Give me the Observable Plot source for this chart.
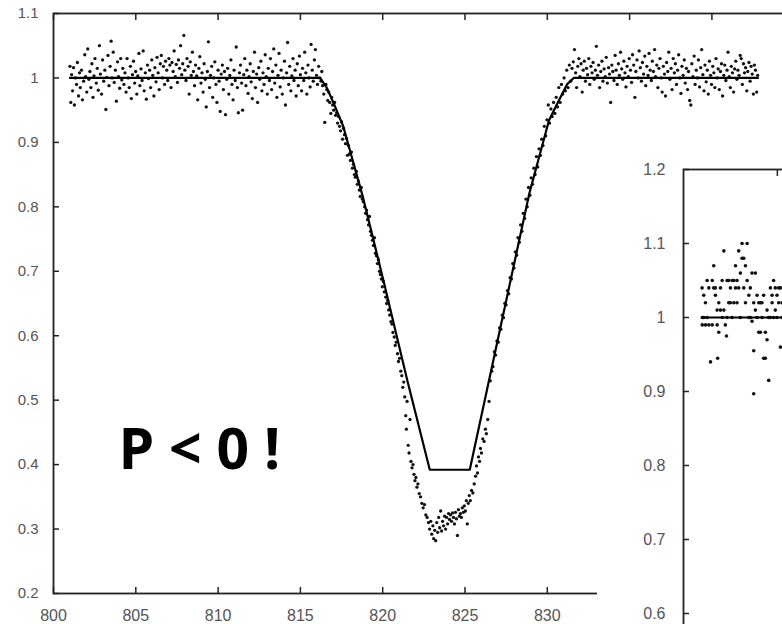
<!DOCTYPE html>
<html>
<head>
<meta charset="utf-8">
<script src="https://cdn.jsdelivr.net/npm/d3@7"></script>
<script src="https://cdn.jsdelivr.net/npm/@observablehq/plot@0.6"></script>
<style>
html, body { margin: 0; padding: 0; background: #fff; overflow: hidden; }
#wrap { position: relative; width: 782px; height: 624px; overflow: hidden; background: #fff; }
#main { position: absolute; left: 0; top: 0; width: 876px; height: 624px; }
#inset { position: absolute; left: 597px; top: 155px; width: 300px; height: 552px; background: #fff; }
#wrap svg { max-width: none !important; display: block; }
</style>
</head>
<body>
<div id="wrap"><div id="main"></div><div id="inset"></div></div>
<script>
// ---------- Main light curve ----------
const xTickLabels = [800, 805, 810, 815, 820, 825, 830];
const xTopTicks = [800, 805, 810, 815, 820, 825, 830, 835, 840, 845];
const yTicks = [0.2, 0.3, 0.4, 0.5, 0.6, 0.7, 0.8, 0.9, 1, 1.1];

// model fit (time, relative flux)
const modelTime = [801.0, 816.2, 816.6, 817.0, 817.6, 818.8, 820.1, 821.5, 822.86, 825.29, 828.9, 830.1, 830.7, 831.2, 831.6, 842.8];
const modelFlux = [1.0, 1.0, 0.985, 0.962, 0.925, 0.815, 0.68, 0.53, 0.392, 0.392, 0.82, 0.934, 0.965, 0.99, 1.0, 1.0];

// observations: [time, relative flux]
const obsBefore = [
[801.00,1.018],[801.05,0.962],[801.10,1.005],[801.16,0.980],[801.22,1.016],[801.27,0.958],[801.33,1.000],[801.40,0.990],[801.45,1.024],[801.52,0.972],
[801.58,1.008],[801.63,0.985],[801.70,1.012],[801.76,0.966],[801.83,0.995],[801.90,1.036],[801.95,1.002],[802.02,0.978],[802.08,1.045],[802.15,0.998],
[802.21,1.010],[802.27,0.985],[802.33,1.022],[802.40,0.970],[802.46,1.003],[802.52,1.030],[802.60,0.992],[802.66,1.015],[802.72,0.981],[802.79,1.050],
[802.85,1.006],[802.92,0.975],[802.98,1.028],[803.05,0.995],[803.12,1.012],[803.18,0.951],[803.24,1.001],[803.31,1.035],[803.37,0.988],[803.44,1.018],
[803.50,1.057],[803.56,1.000],[803.63,1.040],[803.69,0.993],[803.76,1.012],[803.82,0.964],[803.89,1.025],[803.95,1.002],[804.02,0.984],[804.08,1.030],
[804.15,0.997],[804.21,1.015],[804.28,0.990],[804.34,1.008],[804.41,0.978],[804.47,1.030],[804.54,1.000],[804.60,0.985],[804.67,1.018],[804.73,0.968],
[804.80,1.005],[804.86,1.026],[804.93,0.992],[804.99,1.010],[805.06,0.975],[805.12,1.003],[805.19,1.038],[805.25,0.988],[805.32,1.014],[805.38,0.996],
[805.45,1.042],[805.51,0.980],[805.58,1.008],[805.64,0.967],[805.71,1.020],[805.77,0.999],[805.84,1.012],[805.90,0.985],[805.97,1.028],[806.03,1.004],
[806.10,0.972],[806.16,1.016],[806.23,0.994],[806.29,1.032],[806.36,1.008],[806.42,0.982],[806.49,1.022],[806.55,1.035],[806.62,1.000],[806.68,1.018],
[806.75,0.990],[806.81,1.026],[806.88,1.012],[806.94,0.996],[807.01,1.030],[807.07,1.020],[807.14,0.985],[807.20,1.024],[807.27,1.010],[807.33,1.042],
[807.40,1.002],[807.46,1.021],[807.53,0.993],[807.59,1.028],[807.66,1.015],[807.72,1.050],[807.79,1.005],[807.85,1.022],[807.92,1.066],[807.98,1.012],
[808.05,0.996],[808.11,1.030],[808.18,1.018],[808.24,0.975],[808.31,1.025],[808.37,1.004],[808.44,1.040],[808.50,1.010],[808.57,0.988],[808.63,1.020],
[808.70,1.003],[808.76,0.966],[808.83,1.015],[808.89,1.033],[808.96,0.992],[809.02,1.008],[809.09,0.978],[809.15,1.022],[809.22,0.998],[809.28,0.955],
[809.35,1.010],[809.41,1.056],[809.48,0.985],[809.54,1.004],[809.61,1.018],[809.67,0.970],[809.74,1.000],[809.80,1.025],[809.87,0.990],[809.93,0.962],
[810.00,1.012],[810.06,0.995],[810.13,0.948],[810.19,1.006],[810.26,1.020],[810.32,0.982],[810.39,1.010],[810.45,0.943],[810.52,0.998],[810.58,1.015],
[810.65,0.975],[810.71,1.004],[810.78,1.028],[810.84,0.990],[810.91,0.966],[810.97,1.012],[811.04,0.996],[811.10,1.048],[811.17,0.985],[811.23,0.946],
[811.30,1.008],[811.36,1.020],[811.43,0.992],[811.49,0.950],[811.56,1.005],[811.62,1.030],[811.69,0.988],[811.75,1.012],[811.82,0.976],[811.88,1.002],
[811.95,1.022],[812.01,0.994],[812.08,0.968],[812.14,1.010],[812.21,1.040],[812.27,0.985],[812.34,1.006],[812.40,0.962],[812.47,1.016],[812.53,0.998],
[812.60,1.026],[812.66,0.980],[812.73,1.008],[812.79,0.990],[812.86,1.036],[812.92,1.002],[812.99,0.975],[813.05,1.015],[813.12,0.996],[813.18,1.030],
[813.25,0.982],[813.31,1.010],[813.38,1.045],[813.44,0.992],[813.51,1.020],[813.57,0.970],[813.64,1.004],[813.70,1.038],[813.77,0.986],[813.83,1.012],
[813.90,0.975],[813.96,1.000],[814.03,1.026],[814.09,0.958],[814.16,1.008],[814.22,1.055],[814.29,0.990],[814.35,1.018],[814.42,0.980],[814.48,1.003],
[814.55,1.030],[814.61,0.996],[814.68,1.012],[814.74,0.972],[814.81,1.022],[814.87,0.988],[814.94,1.034],[815.00,1.005],[815.07,0.980],[815.13,1.015],
[815.20,0.996],[815.26,1.040],[815.33,1.008],[815.39,0.975],[815.46,1.020],[815.52,1.000],[815.59,0.986],[815.65,1.052],[815.72,1.012],[815.78,0.995],
[815.85,1.028],[815.91,1.044],[815.98,1.004],[816.04,0.990],[816.11,1.018],[816.17,1.000]
];

const obsIngress = [
[816.25,0.995],[816.30,1.010],[816.35,0.988],[816.42,0.975],[816.48,0.931],[816.55,0.990],[816.60,0.982],[816.66,0.965],[816.72,0.978],[816.78,0.962],
[816.85,0.945],[816.90,0.970],[816.96,0.958],[817.02,0.950],[817.08,0.962],[817.14,0.942],[817.20,0.946],[817.26,0.930],[817.32,0.940],[817.38,0.925],
[817.44,0.918],[817.50,0.932],[817.56,0.905],[817.62,0.922],[817.68,0.912],[817.74,0.898],[817.80,0.906],[817.86,0.880],[817.92,0.895],[817.98,0.882],
[818.04,0.872],[818.10,0.885],[818.16,0.860],[818.22,0.866],[818.28,0.850],[818.34,0.846],[818.40,0.855],[818.46,0.835],[818.52,0.840],[818.58,0.826],
[818.64,0.816],[818.70,0.830],[818.76,0.812],[818.82,0.808],[818.90,0.800],[818.96,0.790],[819.02,0.795],[819.08,0.780],[819.14,0.772],[819.20,0.785],
[819.26,0.762],[819.32,0.756],[819.38,0.748],[819.44,0.740],[819.50,0.752],[819.56,0.728],[819.62,0.724],[819.68,0.712],[819.74,0.718],[819.80,0.700],
[819.86,0.695],[819.92,0.688],[819.98,0.676],[820.04,0.684],[820.10,0.668],[820.18,0.660],[820.24,0.650],[820.30,0.655],[820.36,0.640],[820.42,0.632],
[820.50,0.622],[820.56,0.618],[820.62,0.605],[820.70,0.598],[820.76,0.585],[820.82,0.590],[820.90,0.572],[820.96,0.560],[821.02,0.565],[821.10,0.545],
[821.16,0.538],[821.22,0.520],[821.28,0.528],[821.34,0.505],[821.40,0.476],[821.44,0.455],[821.48,0.498],[821.55,0.430],[821.60,0.418],[821.66,0.470],
[821.72,0.405],[821.78,0.395],[821.84,0.400],[821.90,0.385],[821.96,0.375],[822.02,0.380],[822.08,0.365],[822.14,0.370],[822.22,0.355],[822.30,0.350],
[822.38,0.340],[822.46,0.333],[822.54,0.338],[822.62,0.322],[822.70,0.318],[822.78,0.310]
];

const obsMinimum = [
[822.85,0.300],[822.92,0.312],[822.98,0.292],[823.05,0.305],[823.10,0.285],[823.16,0.298],[823.22,0.282],[823.28,0.310],[823.34,0.295],[823.40,0.318],
[823.46,0.302],[823.52,0.328],[823.58,0.297],[823.64,0.312],[823.70,0.305],[823.76,0.320],[823.82,0.300],[823.88,0.318],[823.94,0.308],[824.00,0.324],
[824.06,0.315],[824.12,0.322],[824.18,0.312],[824.24,0.325],[824.30,0.318],[824.36,0.308],[824.42,0.326],[824.48,0.316],[824.54,0.290],[824.60,0.330],
[824.66,0.320],[824.72,0.324],[824.78,0.318],[824.84,0.333],[824.90,0.326],[824.96,0.336],[825.02,0.328],[825.08,0.344],[825.14,0.308],[825.20,0.340],
[825.26,0.352],[825.32,0.344],[825.40,0.360],[825.48,0.356],[825.56,0.370]
];

const obsEgress = [
[825.64,0.382],[825.70,0.398],[825.76,0.387],[825.82,0.412],[825.88,0.405],[825.94,0.425],[826.00,0.418],[826.08,0.440],[826.16,0.436],[826.24,0.455],
[826.30,0.448],[826.38,0.470],[826.46,0.498],[826.54,0.530],[826.62,0.545],[826.70,0.552],[826.78,0.575],[826.86,0.570],[826.94,0.592],[827.02,0.590],
[827.10,0.612],[827.18,0.610],[827.26,0.632],[827.34,0.628],[827.42,0.650],[827.50,0.648],[827.58,0.670],[827.66,0.665],[827.74,0.690],[827.82,0.688],
[827.90,0.712],[827.98,0.705],[828.06,0.730],[828.14,0.725],[828.22,0.752],[828.30,0.745],[828.38,0.772],[828.46,0.762],[828.54,0.790],[828.62,0.782],
[828.70,0.812],[828.78,0.800],[828.86,0.830],[828.94,0.818],[829.02,0.845],[829.10,0.835],[829.18,0.860],[829.26,0.850],[829.34,0.878],[829.42,0.862],
[829.50,0.890],[829.58,0.880],[829.66,0.905],[829.74,0.895],[829.82,0.925],[829.90,0.910],[829.98,0.935],[830.06,0.958],[830.14,0.930],[830.22,0.952],
[830.30,0.940],[830.38,0.962],[830.46,0.945],[830.54,0.970],[830.62,0.955],[830.70,0.985],[830.78,0.962],[830.86,0.990],[830.94,0.975],[831.02,1.000],
[831.10,0.980],[831.18,1.012],[831.26,0.985],[831.34,1.020],[831.42,0.995],[831.50,1.015]
];

const obsAfter = [
[831.58,1.025],[831.65,1.044],[831.72,1.008],[831.78,0.985],[831.85,1.018],[831.92,1.030],[831.98,1.002],[832.05,1.022],[832.12,0.978],[832.18,1.012],
[832.25,1.026],[832.32,0.995],[832.38,1.015],[832.45,1.005],[832.52,1.030],[832.58,0.990],[832.65,1.018],[832.72,1.008],[832.78,1.024],[832.85,0.998],
[832.92,1.012],[832.98,1.049],[833.05,1.004],[833.12,1.020],[833.18,0.985],[833.25,1.010],[833.32,1.026],[833.38,0.995],[833.45,1.014],[833.52,1.002],
[833.58,1.032],[833.65,0.992],[833.72,1.016],[833.78,1.006],[833.85,0.962],[833.92,1.020],[833.98,1.010],[834.05,0.996],[834.12,1.035],[834.18,1.012],
[834.25,0.990],[834.32,1.022],[834.38,1.004],[834.45,1.040],[834.52,1.014],[834.58,0.998],[834.65,1.026],[834.72,1.008],[834.78,0.986],[834.85,1.018],
[834.92,1.002],[834.98,1.030],[835.05,1.012],[835.12,0.993],[835.18,1.036],[835.25,1.020],[835.32,0.970],[835.38,1.010],[835.45,1.028],[835.52,1.000],
[835.58,1.042],[835.65,1.016],[835.72,0.995],[835.78,1.024],[835.85,1.006],[835.92,1.034],[835.98,0.988],[836.05,1.018],[836.12,1.004],[836.18,1.038],
[836.25,1.012],[836.32,0.996],[836.38,1.026],[836.45,1.010],[836.52,1.044],[836.58,1.002],[836.65,1.020],[836.72,0.985],[836.78,1.015],[836.85,1.030],
[836.92,1.000],[836.98,0.978],[837.05,1.018],[837.12,1.006],[837.18,0.972],[837.25,1.024],[837.32,1.010],[837.38,1.040],[837.45,0.998],[837.52,1.015],
[837.58,0.982],[837.65,1.030],[837.72,1.008],[837.78,1.022],[837.85,0.990],[837.92,1.012],[837.98,1.036],[838.05,1.000],[838.12,0.976],[838.18,1.018],
[838.25,1.004],[838.32,1.028],[838.38,0.992],[838.45,1.015],[838.52,0.982],[838.58,1.010],[838.65,0.965],[838.72,0.958],[838.78,1.022],[838.85,1.002],
[838.92,1.034],[838.98,0.990],[839.05,1.012],[839.12,1.000],[839.18,1.028],[839.25,0.986],[839.32,1.016],[839.38,1.044],[839.45,1.005],[839.52,0.980],
[839.58,1.020],[839.65,0.994],[839.72,1.012],[839.78,0.975],[839.85,1.026],[839.92,1.004],[839.98,0.990],[840.05,1.018],[840.12,1.008],[840.18,0.985],
[840.25,1.030],[840.32,1.000],[840.38,1.014],[840.45,0.982],[840.52,1.010],[840.58,1.022],[840.65,0.972],[840.72,1.004],[840.78,1.020],[840.85,0.996],
[840.92,1.012],[840.98,1.040],[841.05,1.002],[841.12,0.985],[841.18,1.018],[841.25,1.008],[841.32,0.978],[841.38,1.014],[841.45,1.026],[841.52,0.998],
[841.58,1.012],[841.65,1.004],[841.72,1.035],[841.78,1.030],[841.85,0.990],[841.92,1.022],[841.98,1.008],[842.05,1.016],[842.12,0.980],[842.18,1.010],
[842.25,1.024],[842.32,0.995],[842.38,1.018],[842.45,1.006],[842.52,0.975],[842.58,1.020],[842.65,1.012],[842.72,0.978],[842.78,1.004]
];

const annotation = [{t: 803.95, f: 0.421, text: "P < 0 !"}];

// ---------- Inset ----------
const insetYTicks = [0.6, 0.7, 0.8, 0.9, 1, 1.1, 1.2];
const insetXTicks = [5, 10];
const insetModelTime = [1.0, 11.0];
const insetModelFlux = [1.0, 1.0];
const insetObs = [
[0.99,1.04],[1.00,1.00],[1.00,0.99],[1.08,1.03],[1.08,1.00],[1.17,1.02],[1.17,0.99],[1.26,1.05],[1.26,1.00],[1.35,1.04],
[1.35,0.99],[1.44,0.94],[1.53,1.05],[1.53,0.99],[1.61,1.07],[1.61,1.04],[1.70,1.04],[1.70,1.03],[1.79,0.99],[1.79,1.01],
[1.82,0.945],[1.88,0.98],[1.88,1.02],[1.97,1.04],[1.97,1.01],[2.06,1.05],[2.06,1.00],[2.15,1.09],[2.15,1.01],[2.23,0.99],
[2.29,0.975],[2.32,1.05],[2.32,1.00],[2.41,1.05],[2.41,1.02],[2.50,1.04],[2.50,1.02],[2.59,1.00],[2.59,1.05],[2.68,1.05],
[2.68,1.02],[2.77,1.07],[2.77,1.04],[2.85,1.05],[2.85,1.02],[2.94,1.09],[2.94,1.04],[3.03,1.06],[3.03,1.00],[3.12,1.10],
[3.12,1.08],[3.21,1.08],[3.21,1.04],[3.30,1.07],[3.30,1.02],[3.39,1.10],[3.39,1.05],[3.48,1.03],[3.48,1.00],[3.56,1.00],
[3.56,1.04],[3.65,1.06],[3.65,0.995],[3.74,0.955],[3.74,0.897],[3.74,1.02],[3.83,1.06],[3.83,1.01],[3.92,1.03],[3.92,1.00],
[4.01,1.02],[4.01,0.98],[4.10,1.02],[4.10,0.98],[4.18,1.02],[4.18,1.00],[4.27,1.03],[4.27,0.945],[4.36,0.98],[4.36,0.945],
[4.45,0.97],[4.45,1.01],[4.54,0.915],[4.54,1.00],[4.63,1.04],[4.63,1.00],[4.72,1.03],[4.72,1.02],[4.80,1.05],[4.80,1.00],
[4.89,1.04],[4.89,1.01],[4.98,1.03],[4.98,1.00],[5.07,1.02],[5.07,1.04],[5.16,1.04],[5.16,0.96],[5.25,1.02],[5.25,1.00]
];

// ---------- build ----------
const toObj = a => a.map(([t, f]) => ({t, f}));
const obs = [obsBefore, obsIngress, obsMinimum, obsEgress, obsAfter].flatMap(toObj);
const model = modelTime.map((t, i) => ({t, f: modelFlux[i]}));
const insetPts = toObj(insetObs);
const insetModel = insetModelTime.map((t, i) => ({t, f: insetModelFlux[i]}));

const axisStyle = {stroke: "#222", strokeWidth: 1.5};
const labelFont = "'Liberation Sans', Arial, sans-serif";

const mainPlot = Plot.plot({
  width: 876, height: 624,
  marginLeft: 53, marginTop: 13, marginBottom: 31, marginRight: 0,
  x: {domain: [800, 850]},
  y: {domain: [0.2, 1.1]},
  style: {background: "#fff", fontFamily: labelFont},
  marks: [
    Plot.frame({stroke: "#222", strokeWidth: 1.8}),
    Plot.axisY(yTicks, {tickSize: -6, tickPadding: 21, fontSize: 15, fill: "#555", ...axisStyle, tickFormat: d => String(d), label: null}),
    Plot.axisX(xTickLabels, {anchor: "bottom", tickSize: -6, tickPadding: 22, fontSize: 16, fill: "#555", ...axisStyle, tickFormat: d => String(d), label: null}),
    Plot.axisX(xTopTicks, {anchor: "top", tickSize: -6, fill: "none", ...axisStyle, label: null}),
    Plot.dot(obs, {x: "t", y: "f", r: 1.65, fill: "#111", stroke: "none"}),
    Plot.line(model, {x: "t", y: "f", stroke: "#000", strokeWidth: 2.2}),
    Plot.text(annotation, {x: "t", y: "f", text: "text", textAnchor: "start", lineAnchor: "middle",
      fontSize: 57, fontWeight: "bold", fontFamily: "'Open Sans', sans-serif", fill: "#000",
      letterSpacing: "1.5px"})
  ]
});
document.getElementById("main").appendChild(mainPlot);

const insetPlot = Plot.plot({
  width: 300, height: 552,
  marginLeft: 86, marginTop: 14, marginBottom: 20, marginRight: 0,
  x: {domain: [0, 11.4]},
  y: {domain: [0.5, 1.2]},
  style: {background: "#fff", fontFamily: labelFont},
  marks: [
    Plot.frame({stroke: "#222", strokeWidth: 1.8}),
    Plot.axisY(insetYTicks, {tickSize: -6, tickPadding: 24, fontSize: 16, fill: "#555", ...axisStyle, tickFormat: d => String(d), label: null}),
    Plot.axisX(insetXTicks, {anchor: "top", tickSize: -6, fill: "none", ...axisStyle, label: null}),
    Plot.axisX(insetXTicks, {anchor: "bottom", tickSize: 0, fill: "none", label: null}),
    Plot.dot(insetPts, {x: "t", y: "f", r: 1.8, fill: "#111", stroke: "none"}),
    Plot.line(insetModel, {x: "t", y: "f", stroke: "#000", strokeWidth: 2.2})
  ]
});
document.getElementById("inset").appendChild(insetPlot);
</script>
</body>
</html>
